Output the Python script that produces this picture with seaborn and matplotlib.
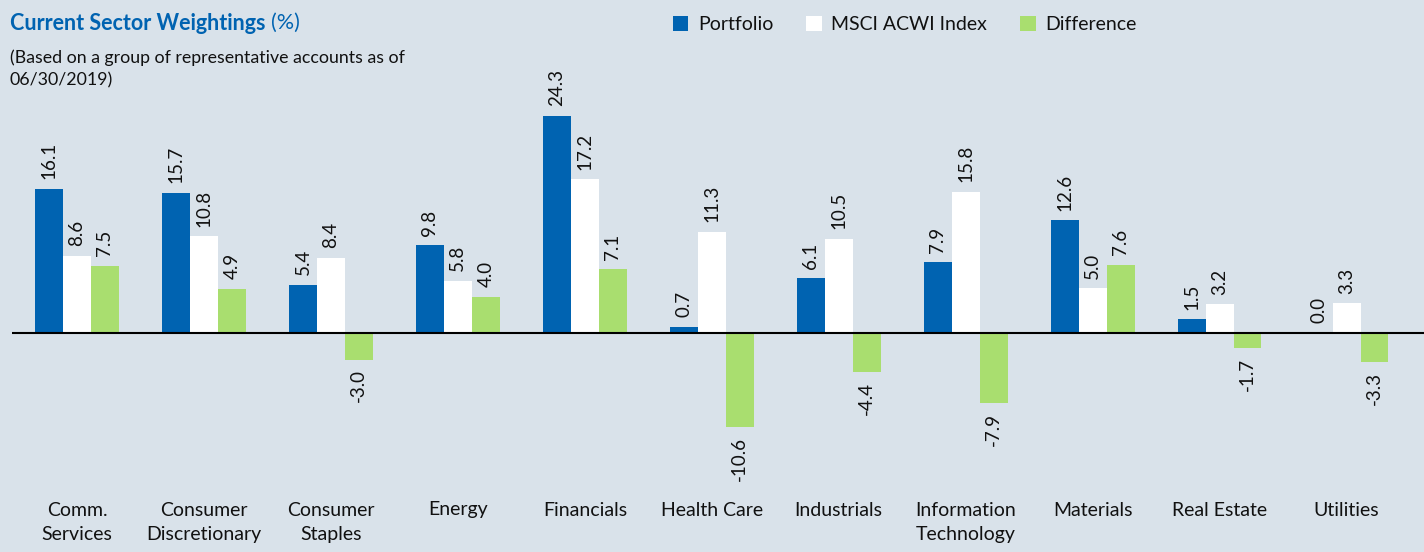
import matplotlib
matplotlib.use("Agg")
import matplotlib.pyplot as plt
import numpy as np
import pandas as pd
import seaborn as sns

SECTORS = ["Comm.\nServices", "Consumer\nDiscretionary", "Consumer\nStaples", "Energy",
           "Financials", "Health Care", "Industrials", "Information\nTechnology",
           "Materials", "Real Estate", "Utilities"]
PORTFOLIO = [16.1, 15.7, 5.4, 9.8, 24.3, 0.7, 6.1, 7.9, 12.6, 1.5, 0.0]
MSCI_ACWI = [8.6, 10.8, 8.4, 5.8, 17.2, 11.3, 10.5, 15.8, 5.0, 3.2, 3.3]
DIFFERENCE = [7.5, 4.9, -3.0, 4.0, 7.1, -10.6, -4.4, -7.9, 7.6, -1.7, -3.3]
SERIES = ["Portfolio", "MSCI ACWI Index", "Difference"]

BG = "#D9E2EA"
BLUE = "#0063B1"
GREEN = "#A9DE6F"

df = pd.DataFrame({"sector": SECTORS, SERIES[0]: PORTFOLIO,
                   SERIES[1]: MSCI_ACWI, SERIES[2]: DIFFERENCE})
long = df.melt(id_vars="sector", var_name="series", value_name="weight")

sns.set_theme(style="white")
plt.rcParams["font.family"] = ["Lato", "DejaVu Sans"]

fig = plt.figure(figsize=(14.24, 5.52), dpi=100, facecolor=BG)
ax = fig.add_axes([12 / 1424, 63 / 552, 1 - 12 / 1424, 489 / 552])
ax.set_facecolor(BG)

sns.barplot(data=long, x="sector", y="weight", hue="series", hue_order=SERIES,
            palette=[BLUE, "white", GREEN], width=0.66, linewidth=0,
            saturation=1, ax=ax, legend=True)

for cont in ax.containers:
    ax.bar_label(cont, fmt="%.1f", rotation=90, padding=7, fontsize=13.5, color="#111111")

ax.axhline(0, color="black", lw=1.5)
ax.set_ylim(-17.5, 37.3)
ax.set_xlim(-0.512, 10.61)
ax.set_xlabel("")
ax.set_ylabel("")
ax.set_yticks([])
sns.despine(ax=ax, left=True, bottom=True)
ax.tick_params(axis="x", length=0, pad=9, labelsize=14, colors="#111111")
for lbl in ax.get_xticklabels():
    lbl.set_linespacing(1.55)

leg = ax.legend(loc="upper left", bbox_to_anchor=(643 / 1412, 1.003), ncol=3,
                frameon=False, fontsize=14, handlelength=0.8, handleheight=0.8,
                handletextpad=0.5, columnspacing=1.7)
for t in leg.get_texts():
    t.set_color("#111111")

title = fig.text(10 / 1424, 1 - 23 / 552, "Current Sector Weightings", fontsize=15.5,
                 fontweight="bold", color=BLUE, va="center", ha="left")
fig.canvas.draw()
bb = title.get_window_extent()
fig.text((bb.x1 + 5) / 1424, 1 - 23 / 552, "(%)", fontsize=15.5, color=BLUE,
         va="center", ha="left")
fig.text(10 / 1424, 1 - 69 / 552, "(Based on a group of representative accounts as of\n06/30/2019)",
         fontsize=12.8, color="#111111", va="center", ha="left", linespacing=1.45)

fig.savefig("out.png", dpi=100, facecolor=BG)
